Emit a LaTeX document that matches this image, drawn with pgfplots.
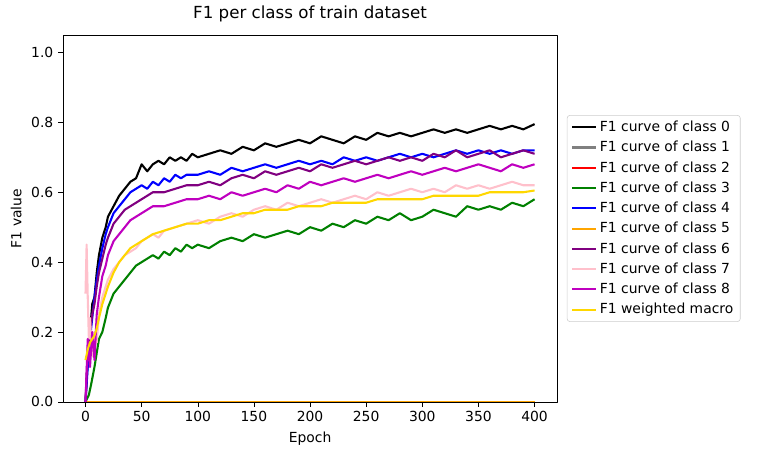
\documentclass[border=0pt]{standalone}
\usepackage{fontspec}
\setmainfont{DejaVu Sans}
\usepackage{pgfplots}
\pgfplotsset{compat=1.18}
\definecolor{mgreen}{HTML}{008000}
\definecolor{mpurple}{HTML}{800080}
\definecolor{mmag}{HTML}{BF00BF}
\definecolor{mpink}{HTML}{FFC0CB}
\definecolor{mgold}{HTML}{FFD700}
\definecolor{morange}{HTML}{FFA500}
\definecolor{mgray}{HTML}{808080}
\definecolor{mblue}{HTML}{0000FF}
\definecolor{mred}{HTML}{FF0000}
\begin{document}
\begin{tikzpicture}
\begin{axis}[
  scale only axis, width=355.7pt, height=264.2pt,
  xmin=-20, xmax=420, ymin=0, ymax=1.05,
  xtick={0,50,...,400}, ytick={0,0.2,...,1.0},
  yticklabel style={/pgf/number format/.cd,fixed,fixed zerofill,precision=1},
  /pgf/number format/assume math mode=true,
  tick align=outside, tick style={black}, major tick length=3.5pt,
  xtick pos=bottom, ytick pos=left,
  ticklabel style={font=\fontsize{10}{12}\selectfont},
  xlabel={Epoch}, ylabel={F1 value},
  label style={font=\fontsize{10}{12}\selectfont},
  title={F1 per class of train dataset},
  title style={font=\fontsize{12}{14}\selectfont},
  legend style={at={(1.02,0.5)},anchor=west,font=\fontsize{10}{12}\selectfont,draw=black!20,rounded corners=2pt,row sep=1.5pt},
  legend cell align=left,
  every axis plot/.append style={line width=1.5pt, mark=none},
  line join=round
]
\addplot[black] coordinates {(0,0)(2,0.12)(4,0.2)(6,0.28)(8,0.3)(10,0.37)(12,0.42)(15,0.47)(18,0.5)(20,0.53)(25,0.56)(30,0.59)(35,0.61)(40,0.63)(45,0.64)(50,0.68)(55,0.66)(60,0.68)(65,0.69)(70,0.68)(75,0.70)(80,0.69)(85,0.70)(90,0.69)(95,0.71)(100,0.70)(110,0.71)(120,0.72)(130,0.71)(140,0.73)(150,0.72)(160,0.74)(170,0.73)(180,0.74)(190,0.75)(200,0.74)(210,0.76)(220,0.75)(230,0.74)(240,0.76)(250,0.75)(260,0.77)(270,0.76)(280,0.77)(290,0.76)(300,0.77)(310,0.78)(320,0.77)(330,0.78)(340,0.77)(350,0.78)(360,0.79)(370,0.78)(380,0.79)(390,0.78)(400,0.795)};
\addlegendentry{F1 curve of class 0}
\addplot[mgray] coordinates {(0,0)(400,0)};
\addlegendentry{F1 curve of class 1}
\addplot[mred] coordinates {(0,0)(400,0)};
\addlegendentry{F1 curve of class 2}
\addplot[mgreen] coordinates {(0,0)(3,0.02)(5,0.05)(8,0.1)(10,0.14)(12,0.18)(15,0.2)(18,0.24)(20,0.27)(25,0.31)(30,0.33)(35,0.35)(40,0.37)(45,0.39)(50,0.40)(55,0.41)(60,0.42)(65,0.41)(70,0.43)(75,0.42)(80,0.44)(85,0.43)(90,0.45)(95,0.44)(100,0.45)(110,0.44)(120,0.46)(130,0.47)(140,0.46)(150,0.48)(160,0.47)(170,0.48)(180,0.49)(190,0.48)(200,0.50)(210,0.49)(220,0.51)(230,0.50)(240,0.52)(250,0.51)(260,0.53)(270,0.52)(280,0.54)(290,0.52)(300,0.53)(310,0.55)(320,0.54)(330,0.53)(340,0.56)(350,0.55)(360,0.56)(370,0.55)(380,0.57)(390,0.56)(400,0.58)};
\addlegendentry{F1 curve of class 3}
\addplot[mblue] coordinates {(0,0)(2,0.1)(4,0.18)(6,0.24)(8,0.3)(10,0.35)(12,0.39)(15,0.44)(18,0.48)(20,0.50)(25,0.54)(30,0.56)(35,0.58)(40,0.60)(45,0.61)(50,0.62)(55,0.61)(60,0.63)(65,0.62)(70,0.64)(75,0.63)(80,0.65)(85,0.64)(90,0.65)(100,0.65)(110,0.66)(120,0.65)(130,0.67)(140,0.66)(150,0.67)(160,0.68)(170,0.67)(180,0.68)(190,0.69)(200,0.68)(210,0.69)(220,0.68)(230,0.70)(240,0.69)(250,0.70)(260,0.69)(270,0.70)(280,0.71)(290,0.70)(300,0.71)(310,0.70)(320,0.71)(330,0.72)(340,0.71)(350,0.72)(360,0.71)(370,0.72)(380,0.71)(390,0.72)(400,0.72)};
\addlegendentry{F1 curve of class 4}
\addplot[morange] coordinates {(0,0)(400,0)};
\addlegendentry{F1 curve of class 5}
\addplot[mpurple] coordinates {(0,0)(2,0.15)(4,0.2)(6,0.25)(8,0.28)(10,0.33)(12,0.37)(15,0.41)(18,0.45)(20,0.47)(25,0.51)(30,0.53)(35,0.55)(40,0.56)(45,0.57)(50,0.58)(55,0.59)(60,0.60)(70,0.60)(80,0.61)(90,0.62)(100,0.62)(110,0.63)(120,0.62)(130,0.64)(140,0.65)(150,0.64)(160,0.66)(170,0.65)(180,0.66)(190,0.67)(200,0.66)(210,0.68)(220,0.67)(230,0.68)(240,0.69)(250,0.68)(260,0.69)(270,0.70)(280,0.69)(290,0.70)(300,0.69)(310,0.71)(320,0.70)(330,0.72)(340,0.70)(350,0.71)(360,0.72)(370,0.70)(380,0.71)(390,0.72)(400,0.71)};
\addlegendentry{F1 curve of class 6}
\addplot[mpink] coordinates {(0,0.31)(1,0.45)(2,0.3)(3,0.18)(4,0.24)(6,0.13)(8,0.2)(10,0.17)(12,0.25)(15,0.3)(18,0.33)(20,0.35)(25,0.38)(30,0.40)(35,0.42)(40,0.43)(45,0.44)(50,0.46)(55,0.47)(60,0.48)(65,0.47)(70,0.49)(80,0.50)(90,0.51)(100,0.52)(110,0.51)(120,0.53)(130,0.54)(140,0.53)(150,0.55)(160,0.56)(170,0.55)(180,0.57)(190,0.56)(200,0.57)(210,0.58)(220,0.57)(230,0.58)(240,0.59)(250,0.58)(260,0.60)(270,0.59)(280,0.60)(290,0.61)(300,0.60)(310,0.61)(320,0.60)(330,0.62)(340,0.61)(350,0.62)(360,0.61)(370,0.62)(380,0.63)(390,0.62)(400,0.62)};
\addlegendentry{F1 curve of class 7}
\addplot[mmag] coordinates {(0,0)(2,0.18)(4,0.1)(6,0.2)(8,0.12)(10,0.25)(12,0.3)(15,0.36)(18,0.39)(20,0.42)(25,0.46)(30,0.48)(35,0.50)(40,0.52)(45,0.53)(50,0.54)(55,0.55)(60,0.56)(70,0.56)(80,0.57)(90,0.58)(100,0.58)(110,0.59)(120,0.58)(130,0.60)(140,0.59)(150,0.60)(160,0.61)(170,0.60)(180,0.62)(190,0.61)(200,0.63)(210,0.62)(220,0.63)(230,0.64)(240,0.63)(250,0.64)(260,0.65)(270,0.64)(280,0.65)(290,0.66)(300,0.65)(310,0.66)(320,0.67)(330,0.66)(340,0.67)(350,0.68)(360,0.67)(370,0.66)(380,0.68)(390,0.67)(400,0.68)};
\addlegendentry{F1 curve of class 8}
\addplot[mgold] coordinates {(0,0.12)(2,0.15)(4,0.17)(6,0.18)(8,0.19)(10,0.21)(12,0.24)(15,0.28)(18,0.31)(20,0.33)(25,0.37)(30,0.40)(35,0.42)(40,0.44)(45,0.45)(50,0.46)(55,0.47)(60,0.48)(70,0.49)(80,0.50)(90,0.51)(100,0.51)(110,0.52)(120,0.52)(130,0.53)(140,0.54)(150,0.54)(160,0.55)(170,0.55)(180,0.55)(190,0.56)(200,0.56)(210,0.56)(220,0.57)(230,0.57)(240,0.57)(250,0.57)(260,0.58)(270,0.58)(280,0.58)(290,0.58)(300,0.58)(310,0.59)(320,0.59)(330,0.59)(340,0.59)(350,0.59)(360,0.60)(370,0.60)(380,0.60)(390,0.60)(400,0.605)};
\addlegendentry{F1 weighted macro}
\end{axis}
\pgfresetboundingbox
\path (-45.4pt,-38.2pt) rectangle (499.7pt,289.4pt);
\end{tikzpicture}
\end{document}
